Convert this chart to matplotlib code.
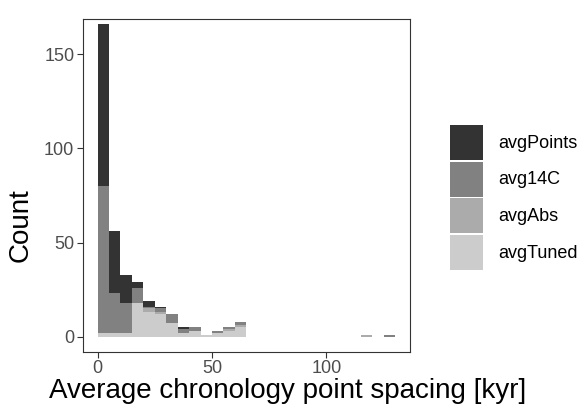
import numpy as np
import matplotlib
matplotlib.use('Agg')
import matplotlib.pyplot as plt

plt.rcParams['font.family'] = ['Liberation Sans', 'DejaVu Sans']

# histogram counts per 5 kyr bin, bins start at 0
bin_width = 5
bin_left = np.arange(0, 130, bin_width)
avgTuned = [2, 2, 2, 18, 13, 12, 7, 2, 3, 1, 2, 3, 5, 0, 0, 0, 0, 0, 0, 0, 0, 0, 0, 0, 0, 0]
avgAbs = [0, 0, 0, 0, 2, 1, 0, 0, 0, 0, 0, 1, 1, 0, 0, 0, 0, 0, 0, 0, 0, 0, 0, 1, 0, 0]
avg14C = [78, 21, 16, 8, 1, 2, 5, 2, 2, 0, 1, 1, 2, 0, 0, 0, 0, 0, 0, 0, 0, 0, 0, 0, 0, 1]
avgPoints = [86, 33, 15, 3, 3, 1, 0, 1, 0, 0, 0, 0, 0, 0, 0, 0, 0, 0, 0, 0, 0, 0, 0, 0, 0, 0]

series = [('avgTuned', avgTuned, '#CCCCCC'),
          ('avgAbs', avgAbs, '#ABABAB'),
          ('avg14C', avg14C, '#818181'),
          ('avgPoints', avgPoints, '#333333')]

fig = plt.figure(figsize=(5.81, 4.11), dpi=100)
ax = fig.add_axes([0.1423, 0.1443, 0.7057 - 0.1423, 0.953 - 0.1443])

bottom = np.zeros(len(bin_left))
handles = {}
for name, vals, col in series:
    vals = np.array(vals, dtype=float)
    h = ax.bar(bin_left, vals, width=bin_width, bottom=bottom, align='edge',
               color=col, linewidth=0)
    handles[name] = h
    bottom += vals

ax.set_xlim(-6.5, 136.5)
ax.set_ylim(-8.0, 168.6)
ax.set_xticks([0, 50, 100])
ax.set_yticks([0, 50, 100, 150])

for s in ax.spines.values():
    s.set_color('#333333')
    s.set_linewidth(0.8)
ax.tick_params(colors='#333333', length=4, width=0.8, labelsize=13,
               labelcolor='#4D4D4D', pad=2)

ax.set_xlabel('Average chronology point spacing [kyr]', fontsize=20)
ax.set_ylabel('Count', fontsize=20)
ax.xaxis.set_label_coords(0.626, -0.078)
ax.yaxis.set_label_coords(-0.149, 0.38)

order = ['avgPoints', 'avg14C', 'avgAbs', 'avgTuned']
leg = ax.legend([handles[n] for n in order], order, loc='center left',
                bbox_to_anchor=(1.071, 0.464), frameon=False, fontsize=13,
                handlelength=1.85, handleheight=2.61, labelspacing=0.1,
                handletextpad=0.85)

fig.savefig('out.png', dpi=100)
